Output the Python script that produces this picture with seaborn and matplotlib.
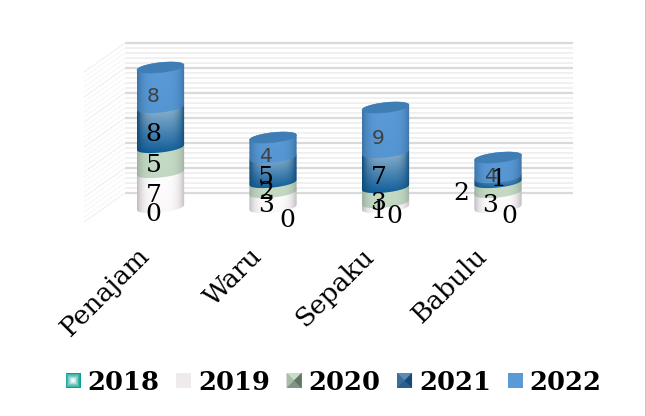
import numpy as np
import matplotlib
matplotlib.use("Agg")
import matplotlib.pyplot as plt
import seaborn as sns
from matplotlib.path import Path
from matplotlib.patches import PathPatch, Rectangle, Polygon, Patch
from matplotlib.legend_handler import HandlerBase
from matplotlib.transforms import ScaledTranslation

categories = ["Penajam", "Waru", "Sepaku", "Babulu"]
years = ["2018", "2019", "2020", "2021", "2022"]
v2018 = [0, 0, 0, 0]
v2019 = [7, 3, 1, 3]
v2020 = [5, 2, 3, 2]
v2021 = [8, 5, 7, 1]
v2022 = [8, 4, 9, 4]
series = [v2018, v2019, v2020, v2021, v2022]
grid_values = np.arange(0, 31)

W, H = 646, 416
sns.set_style("white")
plt.rcParams["font.family"] = ["DejaVu Serif"]
plt.rcParams["text.color"] = "black"
plt.rcParams["xtick.color"] = "black"
fig = plt.figure(figsize=(W / 100, H / 100), dpi=100)

# layout in pixels
L, R, T, B = 84, 573, 40, 225
ax = fig.add_axes([L / W, 1 - B / H, (R - L) / W, (B - T) / H])
step = 112.5
cx0 = 160.5
unit = 5.0
y0px = 207.5
xpx = lambda p: (p - cx0) / step
ax.set_xlim(xpx(L), xpx(R))
ax.set_ylim((y0px - B) / unit, (y0px - T) / unit)

bar_w = 0.42
styles = {
    "2018": dict(top="#2fb5a5", bot="#2fb5a5", edge="#0f9a8c"),
    "2019": dict(top="#ffffff", bot="#fbf8fa", edge="#bfbabf"),
    "2020": dict(top="#c6dcc6", bot="#c2d8c2", edge="#9dae9f"),
    "2021": dict(top="#a3c2d8", bot="#0b5a98", edge="#0f4a78"),
    "2022": dict(top="#5a9bd8", bot="#5596d2", edge="#3d72a6"),
}

# bars through seaborn, stacked
bottom = np.zeros(len(categories))
for yr, vals in zip(years, series):
    sns.barplot(x=categories, y=vals, bottom=bottom, width=bar_w, color="#5b9bd5",
                ax=ax, order=categories, saturation=1, errorbar=None, zorder=2)
    bottom = bottom + np.array(vals)
ax.set_xlim(xpx(L), xpx(R))
ax.set_ylim((y0px - B) / unit, (y0px - T) / unit)

ell = 1.0    # elliptic depth in value units
tilt = 0.5   # the ellipses lean up to the right


def rim(x0, w, y, sign, n=60, rev=False):
    t = np.linspace(-1, 1, n)
    xs = x0 + (t + 1) / 2 * w
    ys = y + tilt * t + sign * ell * np.sqrt(1 - t ** 2)
    pts = np.column_stack([xs, ys])
    return pts[::-1] if rev else pts


def gradient(st, n=90):
    c = matplotlib.colors.to_rgb
    top, bot, edge = map(lambda k: np.array(c(st[k])), ("top", "bot", "edge"))
    v = np.linspace(0, 1, n)[:, None, None]
    t = np.linspace(-1, 1, n)[None, :, None]
    base = top * (1 - v) + bot * v
    mix = np.abs(t) ** 4
    return base * (1 - mix) + edge * mix


n_cat = len(categories)
all_bars = [p for p in ax.patches]
for s, yr in enumerate(years):
    for c in range(n_cat):
        p = all_bars[s * n_cat + c]
        p.set_visible(False)
        x0, w, y_a, h = p.get_x(), p.get_width(), p.get_y(), p.get_height()
        if h <= 0:
            continue
        y_b = y_a + h
        pts = np.vstack([rim(x0, w, y_a, -1), rim(x0, w, y_b, 1, rev=True)])
        clip = PathPatch(Path(np.vstack([pts, pts[0]])), transform=ax.transData, fc="none", ec="none")
        ax.add_patch(clip)
        im = ax.imshow(gradient(styles[yr]), extent=[x0, x0 + w, y_a - 1.6, y_b + 1.6],
                       aspect="auto", origin="upper", zorder=2 + s * 0.1, interpolation="bilinear")
        im.set_clip_path(clip)
        if s == len(years) - 1:
            cap = np.vstack([rim(x0, w, y_b, -1), rim(x0, w, y_b, 1, rev=True)])
            ax.add_patch(Polygon(cap, closed=True, fc="#3f7db5", ec="#3f7db5", lw=0.3, zorder=3))
ax.set_xlim(xpx(L), xpx(R))
ax.set_ylim((y0px - B) / unit, (y0px - T) / unit)

# back wall and side wall
wall_shift = (y0px - 193) / unit
wall_x = xpx(125)
side_x = xpx(84)
side_drop = 29 / unit
for g in grid_values:
    major = g % 5 == 0
    yv = g + wall_shift
    ax.plot([wall_x, xpx(573)], [yv, yv], color="#dadada" if major else "#efefef",
            lw=1.6 if major else 1.3, zorder=1, solid_capstyle="butt")
    ax.plot([side_x, wall_x], [yv - side_drop, yv], color="#ececec" if major else "#f5f5f5",
            lw=1.0, zorder=1, ls=(0, (1.2, 0.6)))

# data labels
series_off = {"2018": (-7, 7), "2019": (-7, 6), "2020": (-7, 5), "2021": (-7, 7), "2022": (-7, 9)}
label_off = {
    ("Waru", "2018"): (14, 13),
    ("Sepaku", "2018"): (9, 9),
    ("Sepaku", "2020"): (-7, 8),
    ("Babulu", "2018"): (11, 9),
    ("Babulu", "2019"): (-8, 6),
    ("Babulu", "2020"): (-37, 6),
    ("Babulu", "2021"): (1, -1),
}
cum = np.zeros(n_cat)
for s, (yr, vals) in enumerate(zip(years, series)):
    for c, cat in enumerate(categories):
        mid = cum[c] + vals[c] / 2
        dx, dy = label_off.get((cat, yr), series_off[yr])
        last = yr == "2022"
        ax.annotate(str(vals[c]), (c, mid), xytext=(dx * 0.72, -dy * 0.72), textcoords="offset points",
                    ha="center", va="center", zorder=5,
                    fontsize=14.5 if last else 18, color="#404040" if last else "#000000",
                    family="DejaVu Sans" if last else "DejaVu Serif")
    cum = cum + np.array(vals)

# axes
for sp in ax.spines.values():
    sp.set_visible(False)
ax.set_facecolor("none")
ax.set_yticks([])
ax.set_xlabel("")
ax.set_ylabel("")
ax.set_xticks(range(n_cat))
ax.set_xticklabels(categories, rotation=45, ha="right", rotation_mode="anchor", fontsize=19, color="black")
ax.tick_params(axis="x", length=0, pad=13)
shift = ScaledTranslation(-24 / 100, 0, fig.dpi_scale_trans)
for lab in ax.get_xticklabels():
    lab.set_transform(lab.get_transform() + shift)


# legend
class Swatch(HandlerBase):
    def __init__(self, kind):
        super().__init__()
        self.kind = kind

    def create_artists(self, legend, orig, xd, yd, w, h, fs, trans):
        x, y = -xd, -yd
        s = 15 * 0.72
        y = y + h / 2 - s / 2
        arts = []
        def poly(pts, col):
            arts.append(Polygon([(x + a * s, y + b * s) for a, b in pts], closed=True, fc=col, ec="none", transform=trans))
        if self.kind == "2018":
            for i, f in enumerate(np.linspace(0, 1, 10)):
                col = np.array([0.05, 0.62, 0.56]) * (1 - f) + np.array([1, 1, 1]) * f
                m = 0.5 * f * 0.85
                poly([(m, m), (1 - m, m), (1 - m, 1 - m), (m, 1 - m)], col)
        elif self.kind == "2019":
            poly([(0, 0), (1, 0), (1, 1), (0, 1)], "#efebec")
        elif self.kind == "2020":
            poly([(0, 0), (1, 0), (1, 1), (0, 1)], "#7f9482")
            poly([(0, 1), (1, 1), (.5, .5)], "#c9dcc9")
            poly([(0, 0), (.5, .5), (0, 1)], "#a9bdab")
            poly([(1, 0), (1, 1), (.5, .5)], "#5f7566")
        elif self.kind == "2021":
            poly([(0, 0), (1, 0), (1, 1), (0, 1)], "#2c5f8c")
            poly([(0, 1), (1, 1), (.5, .5)], "#5d8cb2")
            poly([(0, 0), (.5, .5), (0, 1)], "#3b6f9a")
            poly([(1, 0), (1, 1), (.5, .5)], "#164a78")
        else:
            poly([(0, 0), (1, 0), (1, 1), (0, 1)], "#5b9bd5")
        return arts


handles = [Patch(label=y) for y in years]
leg = fig.legend(handles=handles, labels=years, ncol=5, loc="center", bbox_to_anchor=(333.5 / W, 1 - 382 / H),
                 frameon=False, prop=dict(size=18.5, weight="bold", family="DejaVu Serif"),
                 handler_map={h: Swatch(y) for h, y in zip(handles, years)},
                 handlelength=0.6, handletextpad=0.25, columnspacing=0.65, labelspacing=0, borderpad=0)
for t in leg.get_texts():
    t.set_color("black")

# thin green page edge at the right
fig.add_artist(Rectangle((645 / W, 0), 1 / W, 1, transform=fig.transFigure, fc="#9be89b", ec="none"))

fig.savefig("out.png", dpi=100)
